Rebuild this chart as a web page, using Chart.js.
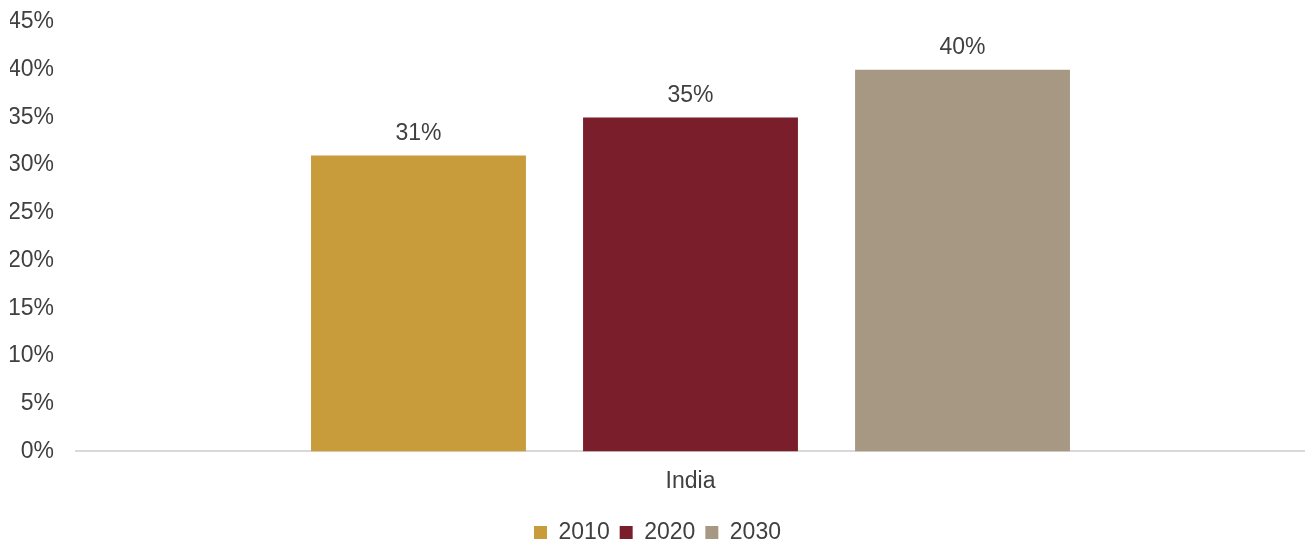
<!DOCTYPE html>
<html>
<head>
<meta charset="utf-8">
<script src="https://cdn.jsdelivr.net/npm/chart.js@4/dist/chart.umd.min.js"></script>
<style>
  html, body { margin: 0; padding: 0; background: #ffffff; }
  #wrap { width: 1305px; height: 543px; }
</style>
</head>
<body>
<div id="wrap"><canvas id="c" width="1305" height="543"></canvas></div>
<script>
// Share of population by year
const categories = ['India'];
const seriesNames = ['2010', '2020', '2030'];
const values2010 = [31];
const values2020 = [35];
const values2030 = [40];
const yTickValues = [0, 5, 10, 15, 20, 25, 30, 35, 40, 45];

const colors = ['#C89B3B', '#7B1E2B', '#A79884'];
const textColor = '#404040';
const fontFamily = '"Liberation Sans", Arial, sans-serif';
const fontSize = 23;

// Writes the percentage above each bar
const barValueLabels = {
  id: 'barValueLabels',
  afterDatasetsDraw(chart) {
    const ctx = chart.ctx;
    ctx.save();
    ctx.font = fontSize + 'px ' + fontFamily;
    ctx.fillStyle = textColor;
    ctx.textAlign = 'center';
    ctx.textBaseline = 'middle';
    chart.data.datasets.forEach((ds, i) => {
      const meta = chart.getDatasetMeta(i);
      meta.data.forEach((bar, j) => {
        ctx.fillText(ds.data[j] + '%', bar.x, bar.y - 22);
      });
    });
    ctx.restore();
  }
};

const allSeries = [values2010, values2020, values2030];

new Chart(document.getElementById('c'), {
  type: 'bar',
  data: {
    labels: categories,
    datasets: allSeries.map((vals, i) => ({
      label: seriesNames[i],
      data: vals,
      backgroundColor: colors[i],
      borderWidth: 0,
      categoryPercentage: 0.664,
      barPercentage: 0.79
    }))
  },
  options: {
    responsive: false,
    animation: false,
    layout: { padding: { left: 10, right: 0, top: 22, bottom: -11 } },
    plugins: {
      legend: {
        position: 'bottom',
        labels: {
          boxWidth: 13,
          boxHeight: 13,
          padding: 10,
          color: textColor,
          font: { family: fontFamily, size: fontSize }
        }
      },
      tooltip: { enabled: false }
    },
    scales: {
      x: {
        grid: { display: false, drawTicks: false },
        border: { display: true, color: '#d9d9d9', width: 2 },
        ticks: {
          color: textColor,
          padding: 16,
          font: { family: fontFamily, size: fontSize }
        }
      },
      y: {
        min: 0,
        max: 45,
        afterBuildTicks(axis) {
          axis.ticks = yTickValues.map(v => ({ value: v }));
        },
        afterFit(axis) {
          axis.width = 66;
          axis.paddingTop = 0;
          axis.paddingBottom = 0;
        },
        grid: { display: false, drawTicks: false },
        border: { display: false },
        ticks: {
          color: textColor,
          padding: 22,
          font: { family: fontFamily, size: fontSize },
          callback: v => v + '%'
        }
      }
    }
  },
  plugins: [barValueLabels]
});
</script>
</body>
</html>
